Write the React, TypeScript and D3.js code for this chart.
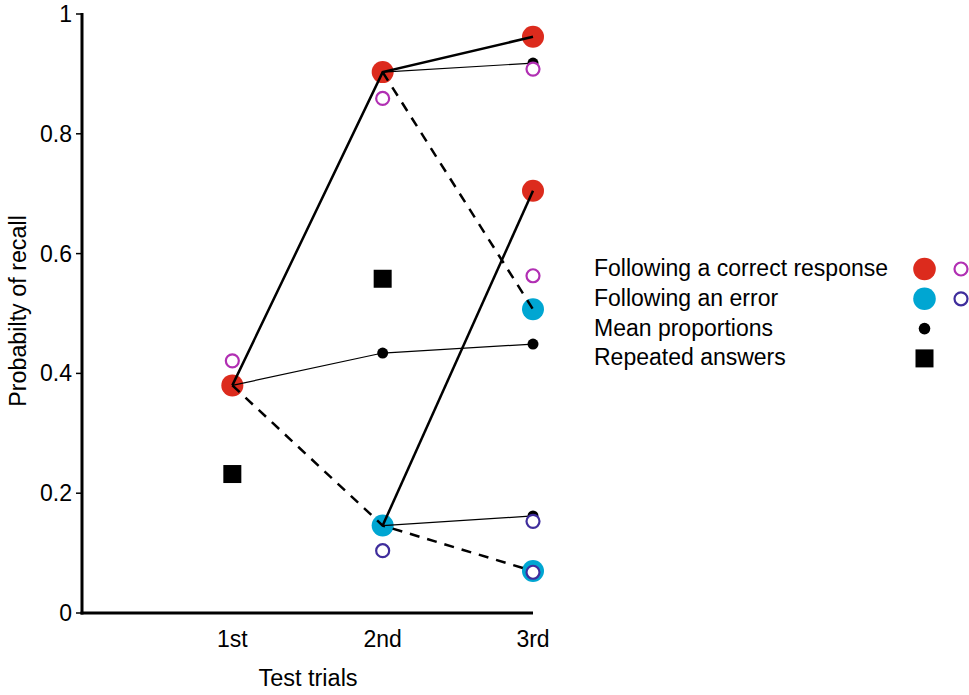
import React from "react";
import * as d3 from "d3";

const trialLabels = ["1st", "2nd", "3rd"];
const yTicks = [0, 0.2, 0.4, 0.6, 0.8, 1];

// [trial index, probability]
const correctPoints: [number, number][] = [[1, 0.38], [2, 0.903], [3, 0.962], [3, 0.705]];
const errorPoints: [number, number][] = [[2, 0.146], [3, 0.507], [3, 0.07]];
const correctOpen: [number, number][] = [[1, 0.421], [2, 0.859], [3, 0.908], [3, 0.563]];
const errorOpen: [number, number][] = [[2, 0.104], [3, 0.153], [3, 0.068]];
const meanPoints: [number, number][] = [[1, 0.38], [2, 0.434], [3, 0.449], [3, 0.918], [3, 0.162]];
const repeatedPoints: [number, number][] = [[1, 0.232], [2, 0.558]];

const thickSolidLines: [number, number][][] = [
  [[1, 0.38], [2, 0.903], [3, 0.962]],
  [[2, 0.146], [3, 0.705]],
];
const dashedLines: [number, number][][] = [
  [[1, 0.38], [2, 0.146], [3, 0.07]],
  [[2, 0.903], [3, 0.507]],
];
const thinLines: [number, number][][] = [
  [[1, 0.38], [2, 0.434], [3, 0.449]],
  [[2, 0.903], [3, 0.918]],
  [[2, 0.146], [3, 0.162]],
];

const legendLabels = [
  "Following a correct response",
  "Following an error",
  "Mean proportions",
  "Repeated answers",
];

const RED = "#dc2b1d";
const BLUE = "#00a6d2";
const MAGENTA = "#b12fb3";
const PURPLE = "#3f2d9c";
const FONT = "'Liberation Sans', Arial, sans-serif";
const FS = 23;

export default function App() {
  const x = d3.scaleLinear().domain([0, 3]).range([82, 533]);
  const y = d3.scaleLinear().domain([0, 1]).range([613, 14]);
  const line = d3
    .line<[number, number]>()
    .x((d) => x(d[0]))
    .y((d) => y(d[1]));

  const legX = 594;
  const legY = (i: number) => 269 + i * 29.8;

  return (
    <svg
      width={969}
      height={695}
      style={{ position: "absolute", left: 0, top: 0, background: "#fff" }}
      fontFamily={FONT}
    >
      {/* axes */}
      <line x1={82} x2={82} y1={y(1) - 1} y2={y(0) + 1.5} stroke="#000" strokeWidth={3} />
      <line x1={80.5} x2={x(3)} y1={y(0)} y2={y(0)} stroke="#000" strokeWidth={3} />
      {yTicks.map((t) => (
        <g key={t}>
          <line x1={76} x2={82} y1={y(t)} y2={y(t)} stroke="#000" strokeWidth={1.5} />
          <text x={72} y={y(t)} dy="0.35em" textAnchor="end" fontSize={FS}>
            {d3.format("~g")(t)}
          </text>
        </g>
      ))}
      {trialLabels.map((l, i) => (
        <text key={l} x={x(i + 1)} y={647} textAnchor="middle" fontSize={FS}>
          {l}
        </text>
      ))}
      <text x={308} y={686} textAnchor="middle" fontSize={FS + 0.5}>
        Test trials
      </text>
      <text
        transform={`translate(26,${311}) rotate(-90)`}
        textAnchor="middle"
        fontSize={FS + 0.3}
      >
        Probabilty of recall
      </text>

      {/* mean markers (beneath) */}
      {meanPoints.map((d, i) => (
        <circle key={"m" + i} cx={x(d[0])} cy={y(d[1])} r={5.5} fill="#000" />
      ))}
      {/* filled markers */}
      {correctPoints.map((d, i) => (
        <circle key={"c" + i} cx={x(d[0])} cy={y(d[1])} r={11} fill={RED} />
      ))}
      {errorPoints.map((d, i) => (
        <circle key={"e" + i} cx={x(d[0])} cy={y(d[1])} r={11} fill={BLUE} />
      ))}

      {/* lines */}
      {thickSolidLines.map((l, i) => (
        <path key={"ts" + i} d={line(l) || ""} fill="none" stroke="#000" strokeWidth={2.5} />
      ))}
      {dashedLines.map((l, i) => (
        <path
          key={"ds" + i}
          d={line(l) || ""}
          fill="none"
          stroke="#000"
          strokeWidth={2.5}
          strokeDasharray="10,8"
        />
      ))}
      {thinLines.map((l, i) => (
        <path key={"tn" + i} d={line(l) || ""} fill="none" stroke="#000" strokeWidth={1.2} />
      ))}

      {/* open markers */}
      {correctOpen.map((d, i) => (
        <circle key={"co" + i} cx={x(d[0])} cy={y(d[1])} r={6.5} fill="#fff" stroke={MAGENTA} strokeWidth={2.2} />
      ))}
      {errorOpen.map((d, i) => (
        <circle key={"eo" + i} cx={x(d[0])} cy={y(d[1])} r={6.5} fill="#fff" stroke={PURPLE} strokeWidth={2.2} />
      ))}
      {repeatedPoints.map((d, i) => (
        <rect key={"r" + i} x={x(d[0]) - 9} y={y(d[1]) - 9} width={18} height={18} fill="#000" />
      ))}

      {/* legend */}
      {legendLabels.map((l, i) => (
        <text key={l} x={legX} y={legY(i) - 1} dy="0.35em" fontSize={FS}>
          {l}
        </text>
      ))}
      <circle cx={924.5} cy={legY(0)} r={11.3} fill={RED} />
      <circle cx={961} cy={legY(0)} r={6.5} fill="#fff" stroke={MAGENTA} strokeWidth={2.2} />
      <circle cx={924.5} cy={legY(1)} r={11.3} fill={BLUE} />
      <circle cx={961} cy={legY(1)} r={6.5} fill="#fff" stroke={PURPLE} strokeWidth={2.2} />
      <circle cx={924.5} cy={legY(2)} r={5.8} fill="#000" />
      <rect x={924.5 - 9} y={legY(3) - 9} width={18} height={18} fill="#000" />
    </svg>
  );
}
